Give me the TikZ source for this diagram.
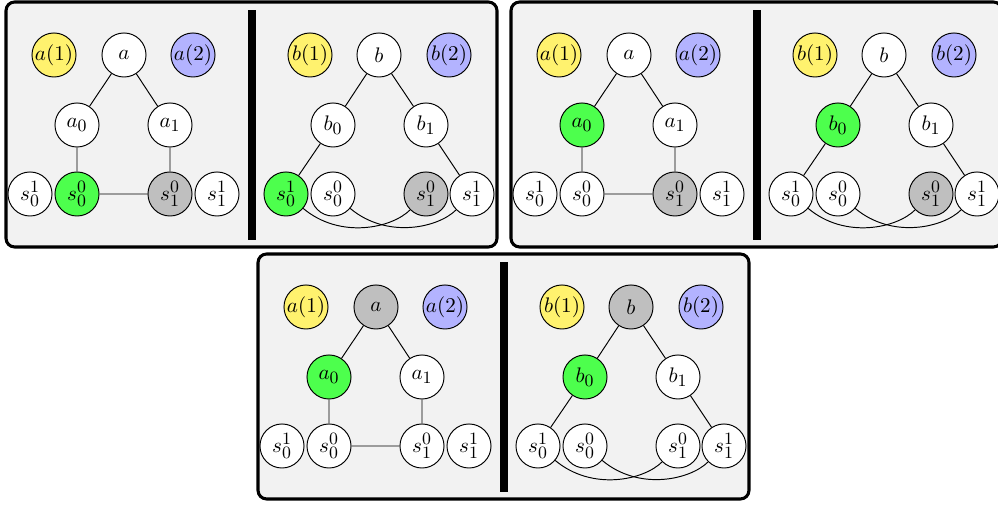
\documentclass[tikz,border=0pt]{standalone}
\DeclareMathSizes{10.95}{10.95}{9}{7}
\definecolor{myyel}{RGB}{255,242,110}
\definecolor{mygreen}{RGB}{77,255,77}
\definecolor{myblue}{RGB}{179,179,255}
\definecolor{mygray}{RGB}{191,191,191}
\definecolor{mybg}{RGB}{242,242,242}
\tikzset{
 nd/.style={circle,draw=black,line width=0.5pt,fill=white,minimum size=22.9pt,inner sep=0pt,
   font=\fontsize{10.95}{13}\selectfont},
 yel/.style={fill=myyel}, blu/.style={fill=myblue}, grn/.style={fill=mygreen}, gry/.style={fill=mygray},
 edge/.style={line width=0.5pt},
 frame/.style={draw=black,line width=1.6pt,fill=mybg,rounded corners=4.5pt},
}
\newcommand\mypanel{%
 \draw[frame] (6,258) rectangle (497,503);
 \fill[black] (248,265) rectangle (256,495);
 % left half
 \node[nd,yel] (a1n) at (54,450) {$a(1)$};
 \node[nd,cA] (a) at (124,450) {$a$};
 \node[nd,blu] (a2n) at (193,450) {$a(2)$};
 \node[nd,cAz] (a0) at (77,380) {$a_0$};
 \node[nd] (a1) at (170,380) {$a_1$};
 \node[nd] (ls01) at (30,311) {$s_0^1$};
 \node[nd,cLzz] (ls00) at (77,311) {$s_0^0$};
 \node[nd,cLoz] (ls10) at (170,311) {$s_1^0$};
 \node[nd] (ls11) at (217,311) {$s_1^1$};
 \draw[edge] (a)--(a0) (a)--(a1) (a0)--(ls00) (a1)--(ls10) (ls00)--(ls10);
 % right half
 \node[nd,yel] (b1n) at (310,450) {$b(1)$};
 \node[nd,cB] (b) at (379,450) {$b$};
 \node[nd,blu] (b2n) at (449,450) {$b(2)$};
 \node[nd,cBz] (b0) at (333,380) {$b_0$};
 \node[nd] (b1) at (426,380) {$b_1$};
 \node[nd,cRzo] (rs01) at (286,311) {$s_0^1$};
 \node[nd] (rs00) at (333,311) {$s_0^0$};
 \node[nd,cRoz] (rs10) at (426,311) {$s_1^0$};
 \node[nd] (rs11) at (472,311) {$s_1^1$};
 \draw[edge] (b)--(b0) (b)--(b1) (b0)--(rs01) (b1)--(rs11);
 \draw[edge] (rs01) to[out=-40,in=-135] (rs10);
 \draw[edge] (rs00) to[out=-40,in=-135] (rs11);
}
\begin{document}
\begin{tikzpicture}[x=0.52pt,y=0.52pt]
\clip (0,0) rectangle (998,505);
\begin{scope}[name prefix=p1-,
  cA/.style={}, cAz/.style={}, cLzz/.style={grn}, cLoz/.style={gry},
  cB/.style={}, cBz/.style={}, cRzo/.style={grn}, cRoz/.style={gry}]
 \mypanel
\end{scope}
\begin{scope}[shift={(505,0)},name prefix=p2-,
  cA/.style={}, cAz/.style={grn}, cLzz/.style={}, cLoz/.style={gry},
  cB/.style={}, cBz/.style={grn}, cRzo/.style={}, cRoz/.style={gry}]
 \mypanel
\end{scope}
\begin{scope}[shift={(252,-252)},name prefix=p3-,
  cA/.style={gry}, cAz/.style={grn}, cLzz/.style={}, cLoz/.style={},
  cB/.style={gry}, cBz/.style={grn}, cRzo/.style={}, cRoz/.style={}]
 \mypanel
\end{scope}
\end{tikzpicture}
\end{document}
